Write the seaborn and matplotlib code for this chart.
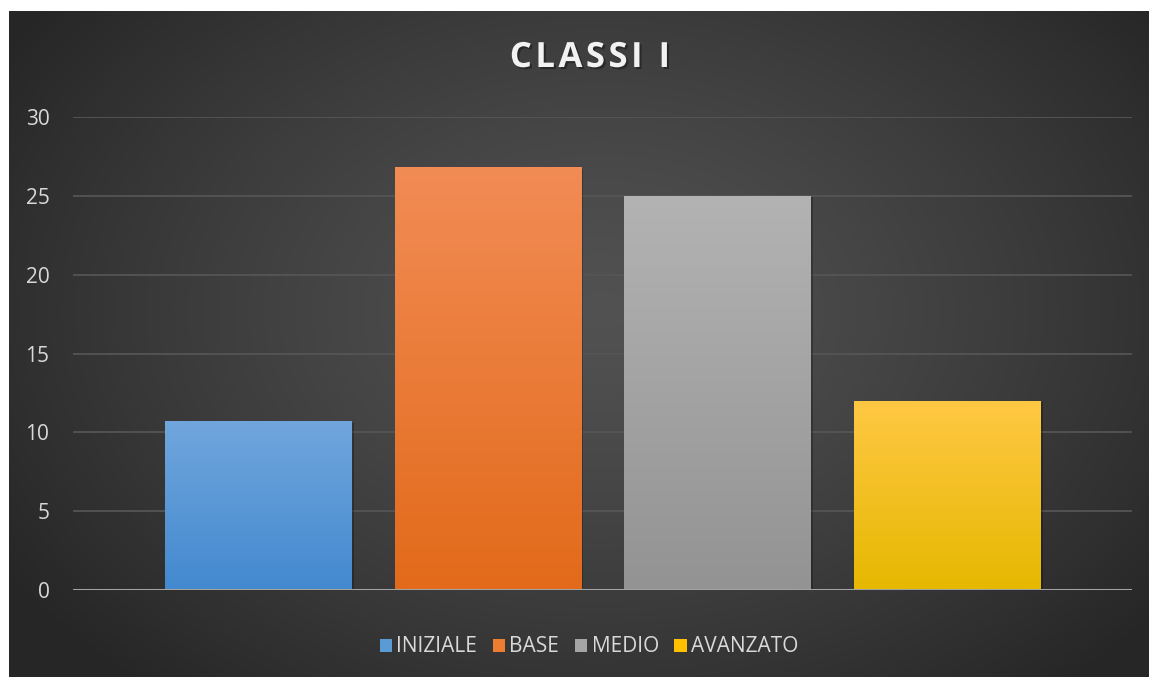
import numpy as np
import matplotlib
matplotlib.use("Agg")
import matplotlib.pyplot as plt
import matplotlib.patheffects as pe
import seaborn as sns
from matplotlib.patches import Patch
from matplotlib.colors import LinearSegmentedColormap

# Chart data
categories = ["INIZIALE", "BASE", "MEDIO", "AVANZATO"]
values = [10.7, 26.8, 25.0, 12.0]
yticks = [0, 5, 10, 15, 20, 25, 30]
title = "CLASSI I"

# Fill styling (gradient from top to bottom of each bar)
top_colors = ["#70a6dd", "#f28c55", "#b3b3b3", "#ffc844"]
bottom_colors = ["#4389cf", "#e26a1a", "#939393", "#e6b800"]
legend_colors = ["#5b9bd5", "#ed7d31", "#a5a5a5", "#ffc000"]

sns.set_theme(style="dark")
plt.rcParams["font.family"] = ["Open Sans", "DejaVu Sans"]

W, H = 1149, 677
fig = plt.figure(figsize=(W / 100, H / 100), dpi=100, facecolor="white")

# Dark panel with a soft radial highlight
bg = fig.add_axes([9 / W, 0, 1 - 9 / W, 1 - 11 / H])
bg.set_axis_off()
yy, xx = np.mgrid[0:1:300j, 0:1:500j]
r = np.sqrt(((xx - 0.52) / 0.62) ** 2 + ((yy - 0.55) / 0.75) ** 2)
shade = 0.32 - 0.17 * np.clip(r, 0, 1.0) ** 1.3
bg.imshow(np.dstack([shade, shade, shade]), extent=[0, 1, 0, 1],
          aspect="auto", origin="lower", interpolation="bilinear")
bg.set_xlim(0, 1)
bg.set_ylim(0, 1)

ax = fig.add_axes([73 / W, (H - 590) / H, (1132 - 73) / W, (590 - 117) / H])
ax.patch.set_alpha(0)

sns.barplot(x=categories, y=values, hue=categories, palette=legend_colors,
            width=0.81, saturation=1, legend=False, ax=ax, zorder=3)

# Gradient fill clipped to each bar, with a soft drop shadow
for patch, c_top, c_bot in zip(ax.patches, top_colors, bottom_colors):
    x0, y0 = patch.get_x(), patch.get_y()
    w, h = patch.get_width(), patch.get_height()
    cmap = LinearSegmentedColormap.from_list("g", [c_bot, c_top])
    grad = np.linspace(0, 1, 256).reshape(-1, 1)
    im = ax.imshow(grad, cmap=cmap, extent=[x0, x0 + w, y0, y0 + h],
                   origin="lower", aspect="auto", zorder=3.5,
                   interpolation="bilinear")
    im.set_clip_path(patch)
    patch.set_edgecolor("none")
    patch.set_path_effects([pe.SimplePatchShadow(offset=(2, -1), shadow_rgbFace="black",
                                                 alpha=0.25), pe.Normal()])
ax.set_xlim(-0.805, 3.805)
ax.set_ylim(0, 30)

ax.set_yticks(yticks)
ax.yaxis.grid(True, color="#555555", linewidth=1.3)
ax.xaxis.grid(False)
ax.set_axisbelow(True)
ax.axhline(0, color="#a3a3a3", linewidth=2.2, zorder=4)
for s in ax.spines.values():
    s.set_visible(False)
ax.set_xticks([])
ax.set_xlabel("")
ax.set_ylabel("")
ax.tick_params(axis="y", colors="#d9d9d9", labelsize=15, length=0, pad=17)

spaced_title = "\u200a".join(title)
fig.text(590 / W, 1 - 58 / H, spaced_title, ha="center", va="center",
         fontsize=25, fontweight="bold", color="#f2f2f2",
         path_effects=[pe.withSimplePatchShadow(offset=(1.5, -1.5), shadow_rgbFace="black",
                                                alpha=0.35)])

handles = [Patch(facecolor=c, edgecolor="none", label=l)
           for c, l in zip(legend_colors, categories)]
fig.legend(handles=handles, loc="center", bbox_to_anchor=(589 / W, 1 - 647 / H),
           ncol=4, frameon=False, fontsize=15, labelcolor="#d9d9d9",
           handlelength=0.6, handleheight=0.6, handletextpad=0.2,
           columnspacing=0.75)

fig.savefig("out.png", dpi=100, facecolor="white")
